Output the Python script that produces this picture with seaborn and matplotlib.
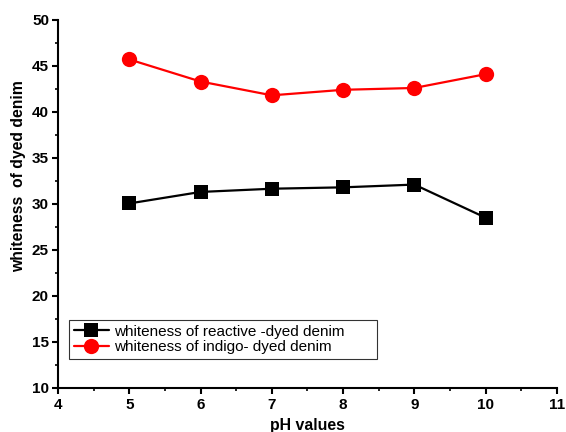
import matplotlib
matplotlib.use("Agg")
import matplotlib.pyplot as plt
import seaborn as sns
import pandas as pd
from matplotlib.ticker import MultipleLocator

ph = [5, 6, 7, 8, 9, 10]
reactive = [30.05, 31.3, 31.65, 31.8, 32.1, 28.5]
indigo = [45.7, 43.3, 41.8, 42.4, 42.6, 44.1]
label_reactive = "whiteness of reactive -dyed denim"
label_indigo = "whiteness of indigo- dyed denim"

sns.set_style("ticks")
plt.rcParams['font.family'] = ['Liberation Sans', 'DejaVu Sans']
plt.rcParams.update({"text.color": "black", "axes.labelcolor": "black",
                     "xtick.color": "black", "ytick.color": "black",
                     "axes.edgecolor": "black"})

df_r = pd.DataFrame({"pH": ph, "whiteness": reactive})
df_i = pd.DataFrame({"pH": ph, "whiteness": indigo})

fig = plt.figure(figsize=(5.66, 4.32), dpi=100)
ax = fig.add_axes([0.1025, 0.102, 0.8815, 0.852])

sns.lineplot(data=df_r, x="pH", y="whiteness", color="black", marker="s",
             markersize=9.5, linewidth=1.6, markeredgewidth=0,
             label=label_reactive, ax=ax)
sns.lineplot(data=df_i, x="pH", y="whiteness", color="#ff0000", marker="o",
             markersize=11, linewidth=1.6, markeredgewidth=0,
             label=label_indigo, ax=ax)

ax.set_xlim(4, 11)
ax.set_ylim(10, 50)
ax.xaxis.set_major_locator(MultipleLocator(1))
ax.xaxis.set_minor_locator(MultipleLocator(0.5))
ax.yaxis.set_major_locator(MultipleLocator(5))
ax.yaxis.set_minor_locator(MultipleLocator(2.5))
ax.tick_params(which="major", direction="out", length=4.5, width=1.5, labelsize=11, pad=3,
               colors="black")
ax.tick_params(which="minor", direction="out", length=2.5, width=1.2, colors="black")
ax.tick_params(axis="y", which="major", pad=2)
for lab in ax.get_xticklabels() + ax.get_yticklabels():
    lab.set_fontweight("bold")
for s in ["top", "right"]:
    ax.spines[s].set_visible(False)
for s in ["left", "bottom"]:
    ax.spines[s].set_linewidth(1.5)
    ax.spines[s].set_color("black")

ax.set_xlabel("pH values", fontsize=11.4, fontweight="bold", labelpad=4, color="black")
ax.set_ylabel("whiteness  of dyed denim", fontsize=11.3, fontweight="bold", color="black")
ax.yaxis.set_label_coords(-0.064, 0.575)

leg = ax.legend(loc="lower left", bbox_to_anchor=(0.022, 0.079, 0.617, 0.103),
                mode="expand", fontsize=11,
                frameon=True, fancybox=False, edgecolor="black", borderpad=0.3,
                labelspacing=0.1, handlelength=2.3, handletextpad=0.35,
                borderaxespad=0)
leg.get_frame().set_linewidth(0.8)
for t in leg.get_texts():
    t.set_color("black")

fig.savefig("out.png", dpi=100)
